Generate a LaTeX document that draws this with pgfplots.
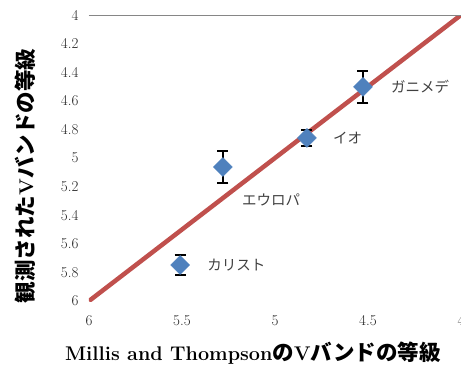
\documentclass[border=0pt]{standalone}
\usepackage{fontspec}
\usepackage{pgfplots}
\pgfplotsset{compat=1.18}
\newfontfamily\cjk{Noto Sans CJK JP}
\definecolor{mblue}{HTML}{4F81BD}
\definecolor{mred}{HTML}{C0504D}
\definecolor{axgray}{HTML}{868686}
\definecolor{lblgray}{HTML}{404040}
\newcommand{\cj}[1]{{\cjk\bfseries\fontsize{21.5}{23}\selectfont #1}}
\begin{document}
\begin{tikzpicture}[x=1pt,y=1pt]
\begin{axis}[
  at={(0,0)}, anchor=south west,
  scale only axis, width=372pt, height=286pt,
  x dir=reverse, y dir=reverse,
  xmin=4, xmax=6, ymin=4, ymax=6,
  xtick={4,4.5,5,5.5,6}, ytick={4,4.2,4.4,4.6,4.8,5,5.2,5.4,5.6,5.8,6},
  xticklabels={4,4.5,5,5.5,6},
  yticklabels={4,4.2,4.4,4.6,4.8,5,5.2,5.4,5.6,5.8,6},
  axis line style={draw=none},
  major tick length=0pt,
  tick label style={font=\fontsize{15}{17}\selectfont, text=black!85},
  xticklabel style={yshift=-11pt},
  yticklabel style={xshift=-7pt},
  xlabel={\fontsize{19.8}{22}\selectfont\bfseries Millis and Thompson\cj{の}V\cj{バンドの等級}},
  ylabel={\fontsize{19.8}{22}\selectfont\cj{観測された}\bfseries V\cj{バンドの等級}},
  every axis x label/.style={at={(axis description cs:0.5,0.5)}, xshift=-22pt, yshift=-195pt, anchor=center},
  every axis y label/.style={at={(axis description cs:0.5,0.5)}, xshift=-250pt, yshift=-18pt, rotate=90, anchor=center},
  clip=true,
]
\addplot[mred, line width=4.5pt, no marks] coordinates {(6,6) (4,4)};
\addplot[only marks, mark=square*, mark size=6.7pt,
  mark options={rotate=45, fill=mblue, draw=mblue},
  error bars/.cd, y dir=both, y explicit,
  error bar style={black, line width=1.2pt},
  error mark options={black, line width=1.2pt, mark size=5.5pt, rotate=90}]
  coordinates {
    (4.527,4.503) +- (0,0.112)
    (4.828,4.860) +- (0,0.056)
    (5.280,5.063) +- (0,0.112)
    (5.510,5.748) +- (0,0.070)
  };
\draw[axgray, line width=0.9pt] (axis cs:6,4) -- (axis cs:4,4);
\draw[axgray, line width=0.9pt] (axis cs:6,4) -- ++(0,3pt);
\draw[axgray, line width=0.9pt] (axis cs:5.5,4) -- ++(0,3pt);
\draw[axgray, line width=0.9pt] (axis cs:5,4) -- ++(0,3pt);
\draw[axgray, line width=0.9pt] (axis cs:4.5,4) -- ++(0,3pt);
\draw[axgray, line width=0.9pt] (axis cs:4,4) -- ++(0,3pt);
\begin{scope}[every node/.style={anchor=west, inner sep=0pt, text=lblgray, font=\cjk\fontsize{14.5}{16}\selectfont}]
\node at (axis cs:4.527,4.503) [xshift=28pt] {ガニメデ};
\node at (axis cs:4.828,4.860) [xshift=26pt] {イオ};
\node at (axis cs:5.280,5.063) [xshift=19pt, yshift=-33pt] {エウロパ};
\node at (axis cs:5.510,5.748) [xshift=27pt] {カリスト};
\end{scope}
\end{axis}
\pgfresetboundingbox
\useasboundingbox (-89,-64) rectangle (372,301);
\end{tikzpicture}
\end{document}
